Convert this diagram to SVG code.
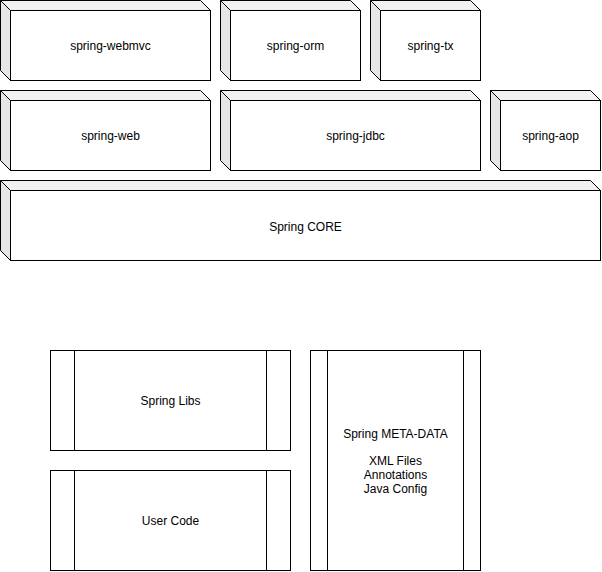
<svg xmlns="http://www.w3.org/2000/svg" width="602" height="572" viewBox="0 0 602 572">
<style>
.front{fill:#ffffff;stroke:#000000;stroke-width:1}
.top{fill:#f1f1f1;stroke:#000000;stroke-width:1;stroke-linejoin:round}
.side{fill:#e6e6e6;stroke:#000000;stroke-width:1;stroke-linejoin:round}
.box{fill:#ffffff;stroke:#000000;stroke-width:1}
.ln{stroke:#000000;stroke-width:1;fill:none}
text{font-family:"Liberation Sans",Arial,Helvetica,sans-serif;font-size:12px;fill:#000000;text-anchor:middle}
</style>
<rect width="602" height="572" fill="#ffffff"/>
<g id="spring-webmvc">
<polygon class="top" points="0.5,0.5 200.5,0.5 210.5,10.5 10.5,10.5"/>
<polygon class="side" points="0.5,0.5 10.5,10.5 10.5,80.5 0.5,70.5"/>
<rect class="front" x="10.5" y="10.5" width="200" height="70"/>
<text x="110.5" y="49.5">spring-webmvc</text>
</g>
<g id="spring-orm">
<polygon class="top" points="220.5,0.5 350.5,0.5 360.5,10.5 230.5,10.5"/>
<polygon class="side" points="220.5,0.5 230.5,10.5 230.5,80.5 220.5,70.5"/>
<rect class="front" x="230.5" y="10.5" width="130" height="70"/>
<text x="295.5" y="49.5">spring-orm</text>
</g>
<g id="spring-tx">
<polygon class="top" points="370.5,0.5 470.5,0.5 480.5,10.5 380.5,10.5"/>
<polygon class="side" points="370.5,0.5 380.5,10.5 380.5,80.5 370.5,70.5"/>
<rect class="front" x="380.5" y="10.5" width="100" height="70"/>
<text x="430.5" y="49.5">spring-tx</text>
</g>
<g id="spring-web">
<polygon class="top" points="0.5,90.5 200.5,90.5 210.5,100.5 10.5,100.5"/>
<polygon class="side" points="0.5,90.5 10.5,100.5 10.5,170.5 0.5,160.5"/>
<rect class="front" x="10.5" y="100.5" width="200" height="70"/>
<text x="110.5" y="139.5">spring-web</text>
</g>
<g id="spring-jdbc">
<polygon class="top" points="220.5,90.5 470.5,90.5 480.5,100.5 230.5,100.5"/>
<polygon class="side" points="220.5,90.5 230.5,100.5 230.5,170.5 220.5,160.5"/>
<rect class="front" x="230.5" y="100.5" width="250" height="70"/>
<text x="355.5" y="139.5">spring-jdbc</text>
</g>
<g id="spring-aop">
<polygon class="top" points="490.5,90.5 590.5,90.5 600.5,100.5 500.5,100.5"/>
<polygon class="side" points="490.5,90.5 500.5,100.5 500.5,170.5 490.5,160.5"/>
<rect class="front" x="500.5" y="100.5" width="100" height="70"/>
<text x="550.5" y="139.5">spring-aop</text>
</g>
<g id="spring-core">
<polygon class="top" points="0.5,180.5 590.5,180.5 600.5,190.5 10.5,190.5"/>
<polygon class="side" points="0.5,180.5 10.5,190.5 10.5,260.5 0.5,250.5"/>
<rect class="front" x="10.5" y="190.5" width="590" height="70"/>
<text x="305.5" y="230.5">Spring CORE</text>
</g>
<g id="spring-libs">
<rect class="box" x="50.5" y="350.5" width="240" height="100"/>
<line class="ln" x1="74.5" y1="350.5" x2="74.5" y2="450.5"/>
<line class="ln" x1="266.5" y1="350.5" x2="266.5" y2="450.5"/>
<text x="170.5" y="404.5">Spring Libs</text>
</g>
<g id="user-code">
<rect class="box" x="50.5" y="470.5" width="240" height="100"/>
<line class="ln" x1="74.5" y1="470.5" x2="74.5" y2="570.5"/>
<line class="ln" x1="266.5" y1="470.5" x2="266.5" y2="570.5"/>
<text x="170.5" y="524.5">User Code</text>
</g>
<g id="spring-meta-data">
<rect class="box" x="310.5" y="350.5" width="170" height="220"/>
<line class="ln" x1="327.5" y1="350.5" x2="327.5" y2="570.5"/>
<line class="ln" x1="463.5" y1="350.5" x2="463.5" y2="570.5"/>
<text x="395.5" y="438">Spring META-DATA</text>
<text x="395.5" y="465">XML Files</text>
<text x="395.5" y="479">Annotations</text>
<text x="395.5" y="493">Java Config</text>
</g>
<g id="connectors"></g>
</svg>
